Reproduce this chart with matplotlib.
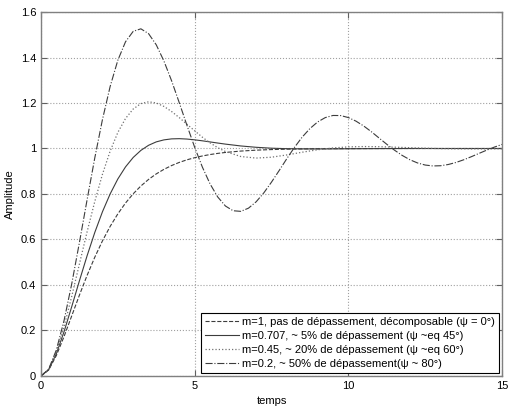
import numpy as np
import matplotlib
matplotlib.use('Agg')
import matplotlib.pyplot as plt

plt.rcParams['font.family'] = ['Liberation Sans', 'DejaVu Sans']

# valeurs (réponses indicielles)
t_a = [0, 0.25, 0.5, 0.75, 1, 1.25, 1.5, 1.75, 2, 2.25, 2.5, 2.75, 3, 3.25, 3.5, 3.75,
       4, 4.25, 4.5, 4.75, 5, 5.25, 5.5, 5.75, 6,
       6.5, 7, 7.5, 8, 8.5, 9, 9.5, 10, 10.5, 11, 11.5, 12, 12.5, 13, 13.5, 14, 14.5, 15]
y_m1 = [0, 0.0265, 0.0902, 0.1734, 0.2642, 0.3554, 0.4422, 0.5221, 0.5940, 0.6575,
        0.7127, 0.7603, 0.8009, 0.8352, 0.8641, 0.8883, 0.9084, 0.9251, 0.9389, 0.9503,
        0.9596, 0.9672, 0.9734, 0.9785, 0.9826,
        0.9887, 0.9927, 0.9953, 0.9970, 0.9981, 0.9988, 0.9992, 0.9995, 0.9997, 0.9998,
        0.9999, 0.9999, 1.0, 1.0, 1.0, 1.0, 1.0, 1.0]
y_m0707 = [0, 0.0278, 0.0981, 0.1946, 0.3048, 0.4184, 0.5285, 0.6308, 0.7220, 0.8003,
           0.8660, 0.9191, 0.9606, 0.9917, 1.0141, 1.0291, 1.0379, 1.0423, 1.0432, 1.0415,
           1.0381, 1.0338, 1.0289, 1.0240, 1.0193,
           1.0112, 1.0053, 1.0013, 0.9992, 0.9983, 0.9981, 0.9984, 0.9988, 0.9992, 0.9995,
           0.9998, 1.0, 1.0, 1.0, 1.0, 1.0, 1.0, 1.0]
y_m045 = [0, 0.0288, 0.1060, 0.2172, 0.3499, 0.4924, 0.6339, 0.7670, 0.8869, 0.9885,
          1.0705, 1.1319, 1.1736, 1.1974, 1.2053, 1.2002, 1.1850, 1.1625, 1.1357, 1.1064,
          1.0779, 1.0497, 1.0249, 1.0037, 0.9866,
          0.9648, 0.9579, 0.9617, 0.9717, 0.9837, 0.9945, 1.0025, 1.0071, 1.0086, 1.0079,
          1.0059, 1.0035, 1.0012, 0.9995, 0.9986, 0.9982, 0.9984, 0.9988]

t_b = [i * 0.25 for i in range(61)]
y_m02 = [0, 0.0301, 0.1147, 0.2436, 0.4050, 0.5867, 0.7748, 0.9586, 1.1275, 1.2727,
         1.3879, 1.4691, 1.5150, 1.5261, 1.5049, 1.4558, 1.3844, 1.2975, 1.2008, 1.1014,
         1.0055, 0.9185, 0.8446, 0.7869, 0.7473, 0.7264, 0.7237, 0.7376, 0.7657, 0.8050,
         0.8522, 0.9032, 0.9557, 1.0055, 1.0503, 1.0876, 1.1166, 1.1359, 1.1452, 1.1448,
         1.1360, 1.1202, 1.0989, 1.0737, 1.0460, 1.0187, 0.9928, 0.9698, 0.9508, 0.9365,
         0.9273, 0.9233, 0.9242, 0.9296, 0.9385, 0.9502, 0.9638, 0.9783, 0.9926, 1.0061,
         1.0178]

labels = ['m=1, pas de dépassement, décomposable (ψ = 0°)',
          'm=0.707, ~ 5% de dépassement (ψ ~eq 45°)',
          'm=0.45, ~ 20% de dépassement (ψ ~eq 60°)',
          'm=0.2, ~ 50% de dépassement(ψ ~ 80°)']

fig = plt.figure(figsize=(5.08, 4.07), dpi=100)
ax = fig.add_axes([0.0807, 0.0762, 0.9075, 0.8943])

c = '#3c3c3c'
ax.plot(t_a, y_m1, '--', color=c, lw=0.8, label=labels[0])
ax.plot(t_a, y_m0707, '-', color=c, lw=0.8, label=labels[1])
ax.plot(t_a, y_m045, ':', color='#707070', lw=0.9, label=labels[2])
ax.plot(t_b, y_m02, '-.', color=c, lw=0.8, label=labels[3])

ax.set_xlim(0, 15)
ax.set_ylim(0, 1.6)
ax.set_xticks([0, 5, 10, 15])
ax.set_yticks([0, 0.2, 0.4, 0.6, 0.8, 1.0, 1.2, 1.4, 1.6])
ax.set_yticklabels(['0', '0.2', '0.4', '0.6', '0.8', '1', '1.2', '1.4', '1.6'])
ax.grid(True, linestyle=':', color='#a0a0a0', lw=0.8)
ax.tick_params(direction='in', top=True, right=True, labelsize=8, length=4,
               color='#606060')
for s in ax.spines.values():
    s.set_color('#808080')
    s.set_linewidth(1.0)

ax.set_xlabel('temps', fontsize=8)
ax.set_ylabel('Amplitude', fontsize=8)

leg = ax.legend(loc='lower right', fontsize=8, fancybox=False, framealpha=1,
                edgecolor='black', handlelength=3.0, handletextpad=0.3,
                borderaxespad=0.25, labelspacing=0.35, borderpad=0.4)
leg.get_frame().set_linewidth(0.8)

fig.savefig('out.png', dpi=100)
